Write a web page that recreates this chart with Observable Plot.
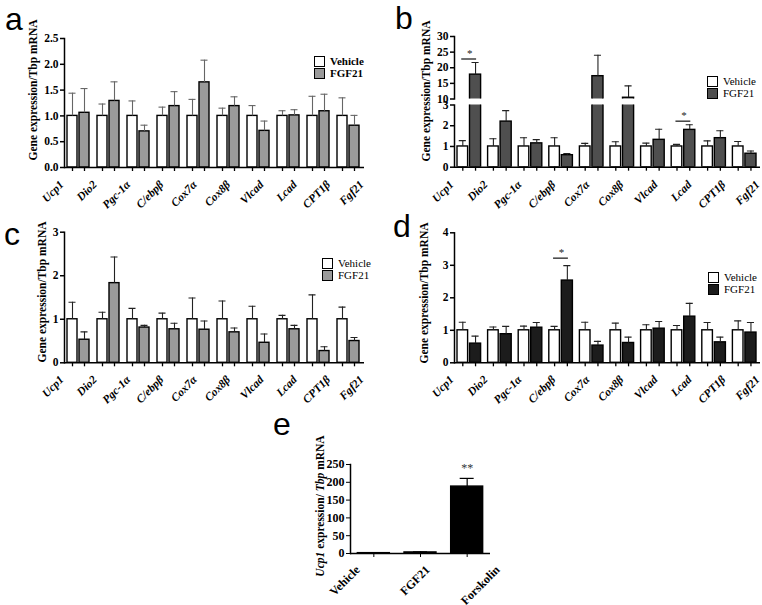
<!DOCTYPE html>
<html><head><meta charset="utf-8">
<script src="https://cdn.jsdelivr.net/npm/d3@7"></script>
<script src="https://cdn.jsdelivr.net/npm/@observablehq/plot@0.6"></script>
<style>
body{margin:0;background:#fff;}
#fig{position:relative;width:762px;height:605px;overflow:hidden;background:#fff;font-family:"Liberation Serif","Times New Roman",serif;color:#000;}
.letter{position:absolute;font-family:"Liberation Sans",Arial,sans-serif;font-size:32px;line-height:30px;}
.ylab{position:absolute;font-weight:bold;font-size:11.5px;white-space:nowrap;transform:translate(-50%,-50%) rotate(-90deg);line-height:1;}
.leg{position:absolute;font-size:11px;line-height:12px;}
.leg div{display:flex;align-items:center;height:12px;}
.leg span.sw{display:inline-block;width:9px;height:9px;border:1.2px solid #000;margin-right:5px;}
svg.panel{position:absolute;overflow:visible;}
</style></head>
<body><div id="fig"></div>
<script>
// ---------- data ----------
const genes = ["Ucp1","Dio2","Pgc-1α","C/ebpβ","Cox7α","Cox8β","Vlcad","Lcad","CPT1β","Fgf21"];
const seriesNames = ["Vehicle","FGF21"];

const aVehicle    = [1,1,1,1,1,1,1,1,1,1];
const aVehicleErr = [1.44,1.23,1.29,1.17,1.32,1.15,1.20,1.10,1.38,1.35];
const aFGF21      = [1.06,1.29,0.70,1.19,1.65,1.19,0.71,1.01,1.09,0.81];
const aFGF21Err   = [1.53,1.66,0.82,1.47,2.08,1.37,0.90,1.12,1.42,1.01];
const aTicks      = [0,0.5,1,1.5,2,2.5];

const bVehicle    = [1,1,1,1,1,1,1,1,1,1];
const bVehicleErr = [1.28,1.37,1.42,1.42,1.15,1.23,1.16,1.10,1.27,1.24];
const bFGF21      = [17.8,2.2,1.15,0.58,17.3,10.4,1.32,1.80,1.40,0.65];
const bFGF21Err   = [21.7,2.73,1.33,0.66,24.0,14.2,1.83,2.05,1.76,0.78];
const bTicksTop   = [10,15,20,25,30];
const bTicksBottom= [0,1,2,3];
const bSigGenes   = ["Ucp1","Lcad"];
const bSigLevels  = [22.8,2.22];

const cVehicle    = [1,1,1,1,1,1,1,1,1,1];
const cVehicleErr = [1.39,1.16,1.25,1.14,1.49,1.42,1.30,1.09,1.56,1.28];
const cFGF21      = [0.53,1.83,0.81,0.77,0.76,0.70,0.46,0.77,0.27,0.50];
const cFGF21Err   = [0.71,2.43,0.86,0.91,0.96,0.80,0.66,0.86,0.37,0.58];
const cTicks      = [0,1,2,3];

const dVehicle    = [1,1,1,1,1,1,1,1,1,1];
const dVehicleErr = [1.25,1.10,1.13,1.12,1.25,1.22,1.17,1.15,1.24,1.29];
const dFGF21      = [0.59,0.88,1.08,2.53,0.53,0.61,1.05,1.42,0.63,0.93];
const dFGF21Err   = [0.82,1.12,1.24,2.99,0.66,0.79,1.27,1.83,0.79,1.24];
const dTicks      = [0,1,2,3,4];
const dSigGenes   = ["C/ebpβ"];
const dSigLevels  = [3.22];

const eGroups     = ["Vehicle","FGF21","Forskolin"];
const eMeans      = [1,3,188];
const eErr        = [1.6,4.5,211];
const eTicks      = [0,50,100,150,200,250];
const eSigGroups  = ["Forskolin"];
const eSigLevels  = [240];

// ---------- helpers ----------
const fig = document.getElementById("fig");
const FONT = "'Liberation Serif','Times New Roman',serif";

function put(node, left, top){
  node.classList.add("panel");
  node.style.position = "absolute";
  node.style.left = left + "px";
  node.style.top = top + "px";
  fig.appendChild(node);
}
function letter(ch, left, top){
  const d = document.createElement("div"); d.className = "letter"; d.textContent = ch;
  d.style.left = left + "px"; d.style.top = top + "px"; fig.appendChild(d);
}
function ylab(html, cx, cy){
  const d = document.createElement("div"); d.className = "ylab"; d.innerHTML = html;
  d.style.left = cx + "px"; d.style.top = cy + "px"; fig.appendChild(d);
}
function legend(left, top, color, bold){
  const d = document.createElement("div"); d.className = "leg";
  d.style.left = left + "px"; d.style.top = top + "px";
  if (bold) d.style.fontWeight = "bold";
  const fills = ["#fff", color];
  seriesNames.forEach((s,i)=>{
    const r = document.createElement("div");
    r.innerHTML = `<span class="sw" style="background:${fills[i]}"></span>${s}`;
    d.appendChild(r);
  });
  fig.appendChild(d);
}
// rotated category labels: a strip plot sharing the panel's x scale, shifted by (sx, sy)
function labelStrip(domain, left, axisTop, width, ml, mr, sx, sy, textOpts){
  const svg = Plot.plot({
    width, height:10, marginLeft:ml, marginRight:mr, marginTop:0, marginBottom:0,
    style:{fontFamily:FONT, color:"#000", background:"transparent", overflow:"visible"},
    x:{domain, padding:0, round:false, axis:null},
    marks:[Plot.text(domain, {x:d=>d, frameAnchor:"top", rotate:-45, textAnchor:"end", ...textOpts})]
  });
  put(svg, left + sx, axisTop + sy);
}

function genePanel(o){
  const rows = genes.map((g,i)=>({gene:g, v:o.v[i], ve:o.ve[i], f:o.f[i], fe:o.fe[i]}));
  const s = o.step, [v1,v2] = o.vb, [f1,f2] = o.fb;
  const cv = (v1+v2)/2, cf = (f1+f2)/2, cap = 3.5;
  const clip = true;
  const marks = [
    Plot.barY(rows, {x:"gene", y:"v", fill:"#fff", stroke:"#000", strokeWidth:1.4, insetLeft:v1, insetRight:s-v2, clip}),
    Plot.barY(rows, {x:"gene", y:"f", fill:o.color, stroke:"#000", strokeWidth:1.4, insetLeft:f1, insetRight:s-f2, clip}),
    Plot.ruleX(rows, {x:"gene", y1:"v", y2:"ve", dx:cv-s/2, stroke:o.err, strokeWidth:1.1, clip}),
    Plot.tickY(rows, {x:"gene", y:"ve", insetLeft:cv-cap, insetRight:s-cv-cap, stroke:o.err, strokeWidth:1.1, clip}),
    Plot.ruleX(rows, {x:"gene", y1:"f", y2:"fe", dx:cf-s/2, stroke:o.err, strokeWidth:1.1, clip}),
    Plot.tickY(rows, {x:"gene", y:"fe", insetLeft:cf-cap, insetRight:s-cf-cap, stroke:o.err, strokeWidth:1.1, clip}),
    Plot.frame({anchor:"left", strokeWidth:1.5}),
    Plot.axisY({ticks:o.ticks, tickFormat:o.fmt, tickSize:4, tickPadding:2, strokeWidth:1.5, fontWeight:"bold", fontSize:11.5, label:null})
  ];
  if (o.sig){
    const sig = o.sig[0].map((g,i)=>({gene:g, level:o.sig[1][i]}));
    marks.push(Plot.tickY(sig, {x:"gene", y:"level", insetLeft:cv-1, insetRight:s-cf-1, stroke:"#222", strokeWidth:1.3}));
    marks.push(Plot.text(sig, {x:"gene", y:"level", text:()=>"*", dy:-2, lineAnchor:"bottom", fontSize:11, fill:"#222"}));
  }
  if (o.xaxis){
    marks.push(Plot.ruleY([o.domain[0]], {strokeWidth:1.5}));
    marks.push(Plot.axisX({tickSize:4, tickFormat:()=>"", dx:cv-s/2, strokeWidth:1.3, label:null}));
    marks.push(Plot.axisX({tickSize:4, tickFormat:()=>"", dx:cf-s/2, strokeWidth:1.3, label:null}));
  }
  const svg = Plot.plot({
    width:o.width, height:o.height,
    marginLeft:o.ml, marginRight:o.mr, marginTop:o.mt, marginBottom:o.mb,
    style:{fontFamily:FONT, fontSize:"11.5px", color:"#000", background:"transparent", overflow:"visible"},
    x:{domain:genes, padding:0, round:false, axis:null},
    y:{domain:o.domain, axis:null},
    marks
  });
  put(svg, o.left, o.top);
  if (o.xaxis){
    labelStrip(genes, o.left, o.top + o.height - o.mb, o.width, o.ml, o.mr, cv - s/2 + 1, 12,
      {fontStyle:"italic", fontWeight:"bold", fontSize:11.5});
  }
}

// ---------- panel a ----------
genePanel({left:0, top:0, width:380, height:215, ml:64, mr:16, mt:38, mb:48,
  domain:[0,2.5], ticks:aTicks, fmt:d3.format(".1f"), v:aVehicle, ve:aVehicleErr, f:aFGF21, fe:aFGF21Err,
  step:30, vb:[3,13], fb:[15,25], color:"#9a9a9a", err:"#666", xaxis:true});
letter("a", 5, 4);
ylab("Gene expression/Tbp mRNA", 34, 90);
legend(314, 55, "#9a9a9a", true);

// ---------- panel b (broken axis) ----------
genePanel({left:380, top:0, width:382, height:99, ml:74, mr:2, mt:36, mb:0.5,
  domain:[10,30], ticks:bTicksTop, fmt:d3.format("d"), v:bVehicle, ve:bVehicleErr, f:bFGF21, fe:bFGF21Err,
  step:30.5, vb:[3,13.5], fb:[15.5,26.5], color:"#4f4f4f", err:"#222", xaxis:false,
  sig:[bSigGenes.slice(0,1), bSigLevels.slice(0,1)]});
genePanel({left:380, top:100, width:382, height:115, ml:74, mr:2, mt:4.5, mb:48.3,
  domain:[0,3], ticks:bTicksBottom, fmt:d3.format("d"), v:bVehicle, ve:bVehicleErr, f:bFGF21, fe:bFGF21Err,
  step:30.5, vb:[3,13.5], fb:[15.5,26.5], color:"#4f4f4f", err:"#222", xaxis:true,
  sig:[bSigGenes.slice(1), bSigLevels.slice(1)]});
letter("b", 395, 3);
ylab("Gene expression/Tbp mRNA", 427, 91);
legend(707, 75, "#4f4f4f", false);

// ---------- panel c ----------
genePanel({left:0, top:200, width:380, height:215, ml:64, mr:16, mt:31.7, mb:52.7,
  domain:[0,3], ticks:cTicks, fmt:d3.format("d"), v:cVehicle, ve:cVehicleErr, f:cFGF21, fe:cFGF21Err,
  step:30, vb:[3,13], fb:[15,25], color:"#9a9a9a", err:"#222", xaxis:true});
letter("c", 4, 219);
ylab("Gene expression/Tbp mRNA", 43, 292);
legend(322, 257, "#9a9a9a", false);

// ---------- panel d ----------
genePanel({left:380, top:200, width:382, height:215, ml:74, mr:2, mt:32.3, mb:52.7,
  domain:[0,4], ticks:dTicks, fmt:d3.format("d"), v:dVehicle, ve:dVehicleErr, f:dFGF21, fe:dFGF21Err,
  step:30.5, vb:[3,13.5], fb:[15.5,26.5], color:"#1c1c1c", err:"#222", xaxis:true,
  sig:[dSigGenes, dSigLevels]});
letter("d", 393, 211);
ylab("Gene expression/Tbp mRNA", 425, 293);
legend(708, 271, "#1c1c1c", false);

// ---------- panel e ----------
{
  const rows = eGroups.map((g,i)=>({g, m:eMeans[i], e:eErr[i]}));
  const sig = eSigGroups.map((g,i)=>({g, level:eSigLevels[i]}));
  const s = 140/3, bw = 32, ins = (s-bw)/2, cap = 7;
  const svg = Plot.plot({
    width:260, height:195, marginLeft:100, marginRight:20, marginTop:54, marginBottom:52,
    style:{fontFamily:FONT, fontSize:"12px", color:"#000", background:"transparent", overflow:"visible"},
    x:{domain:eGroups, padding:0, round:false, axis:null},
    y:{domain:[0,250], axis:null},
    marks:[
      Plot.barY(rows, {x:"g", y:"m", fill:"#000", stroke:"#000", strokeWidth:1.4, insetLeft:ins, insetRight:ins}),
      Plot.ruleX(rows, {x:"g", y1:"m", y2:"e", stroke:"#000", strokeWidth:1.2}),
      Plot.tickY(rows, {x:"g", y:"e", insetLeft:s/2-cap, insetRight:s/2-cap, stroke:"#000", strokeWidth:1.2}),
      Plot.text(sig, {x:"g", y:"level", text:()=>"**", fontSize:12, fill:"#333"}),
      Plot.ruleY([0], {strokeWidth:1.5}),
      Plot.frame({anchor:"left", strokeWidth:1.5}),
      Plot.axisY({ticks:eTicks, tickSize:4, tickPadding:2, fontWeight:"bold", fontSize:12, label:null}),
      Plot.axisX({tickSize:4, tickFormat:()=>"", label:null})
    ]
  });
  put(svg, 250, 410);
  labelStrip(eGroups, 250, 410 + 195 - 52, 260, 100, 20, 4, 11, {fontWeight:"bold", fontSize:12});
}
letter("e", 273, 409);
ylab("<i>Ucp1</i> expression/ <i>Tbp</i> mRNA", 321, 506);
</script>
</body></html>
